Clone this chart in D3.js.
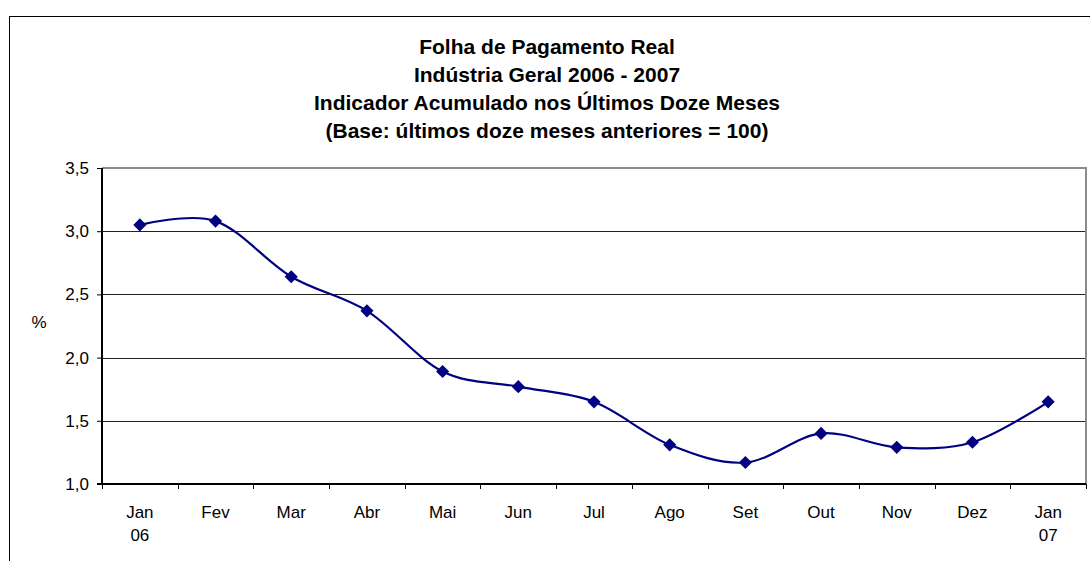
<!DOCTYPE html>
<html>
<head>
<meta charset="utf-8">
<script src="https://cdn.jsdelivr.net/npm/d3@7"></script>
<style>
  body { margin: 0; background: #fff; }
  text { font-family: Arial, "Liberation Sans", sans-serif; }
</style>
</head>
<body>
<div id="chart"></div>
<script>
// folha de pagamento real - industria geral
var months = ["Jan", "Fev", "Mar", "Abr", "Mai", "Jun", "Jul", "Ago", "Set", "Out", "Nov", "Dez", "Jan"];
var years = ["06", "", "", "", "", "", "", "", "", "", "", "", "07"];
var values = [3.05, 3.08, 2.64, 2.37, 1.89, 1.77, 1.65, 1.31, 1.17, 1.40, 1.29, 1.33, 1.65];
var yTicks = [1.0, 1.5, 2.0, 2.5, 3.0, 3.5];
var titleLines = [
	"Folha de Pagamento Real",
	"Indústria Geral 2006 - 2007",
	"Indicador Acumulado nos Últimos Doze Meses",
	"(Base: últimos doze meses anteriores = 100)"
];

var width = 1090, height = 561;
var plotLeft = 102, plotRight = 1086, plotTop = 168, plotBottom = 484;

var svg = d3.select("#chart").append("svg")
			.attr("width", width)
			.attr("height", height);

// outer frame (cut by the window on the right and bottom)
svg.append("rect")
	.attr("x", 9.5).attr("y", 16.5)
	.attr("width", 1100).attr("height", 600)
	.attr("fill", "none")
	.attr("stroke", "#000")
	.attr("stroke-width", 1);

var idx = months.map((d, i) => i);

var xScale = d3.scaleBand()
				.domain(idx)
				.range([plotLeft, plotRight]);

var yScale = d3.scaleLinear()
				.domain([1, 3.5])
				.range([plotBottom, plotTop]);

// gridlines
svg.append("g")
	.selectAll("line")
	.data(yTicks.slice(1, -1))
	.enter()
	.append("line")
	.attr("x1", plotLeft).attr("x2", plotRight)
	.attr("y1", d => Math.round(yScale(d)) + 0.5)
	.attr("y2", d => Math.round(yScale(d)) + 0.5)
	.attr("stroke", "#222")
	.attr("stroke-width", 1);

// plot area border top/right in grey
svg.append("path")
	.attr("d", "M" + plotLeft + "," + plotTop + "H" + plotRight + "V" + plotBottom)
	.attr("fill", "none")
	.attr("stroke", "#8c8c8c")
	.attr("stroke-width", 2);

var fmt = d => d3.format(".1f")(d).replace(".", ",");

var yAxis = d3.axisLeft(yScale)
				.tickValues(yTicks)
				.tickFormat(fmt)
				.tickSize(5)
				.tickPadding(8);

var gy = svg.append("g")
	.attr("transform", "translate(" + plotLeft + ",0)")
	.call(yAxis);
gy.select(".domain").attr("stroke", "#000").attr("stroke-width", 2).attr("d", "M0," + plotTop + "V" + plotBottom);
gy.selectAll(".tick line").attr("stroke", "#000");
gy.selectAll(".tick text").attr("font-size", 17).attr("fill", "#000").attr("font-family", "Arial, 'Liberation Sans', sans-serif");

// x axis: ticks sit between categories
var xAxisG = svg.append("g");
xAxisG.append("line")
	.attr("x1", plotLeft - 5).attr("x2", plotRight)
	.attr("y1", plotBottom).attr("y2", plotBottom)
	.attr("stroke", "#000")
	.attr("stroke-width", 2);

var bounds = idx.concat([idx.length]);
xAxisG.selectAll(".xtick")
	.data(bounds)
	.enter()
	.append("line")
	.attr("x1", d => Math.round(plotLeft + d * xScale.step()) + 0.5)
	.attr("x2", d => Math.round(plotLeft + d * xScale.step()) + 0.5)
	.attr("y1", plotBottom).attr("y2", plotBottom + 5)
	.attr("stroke", "#000");

xAxisG.selectAll(".xlab")
	.data(idx)
	.enter()
	.append("text")
	.attr("x", d => xScale(d) + xScale.bandwidth() / 2)
	.attr("y", 518)
	.attr("text-anchor", "middle")
	.attr("font-size", 17)
	.text(d => months[d]);

xAxisG.selectAll(".xyear")
	.data(idx.filter(d => years[d] !== ""))
	.enter()
	.append("text")
	.attr("x", d => xScale(d) + xScale.bandwidth() / 2)
	.attr("y", 541)
	.attr("text-anchor", "middle")
	.attr("font-size", 17)
	.text(d => years[d]);

// y label
svg.append("text")
	.attr("x", 39).attr("y", 328)
	.attr("text-anchor", "middle")
	.attr("font-size", 17)
	.text("%");

// title
svg.append("g")
	.selectAll("text")
	.data(titleLines)
	.enter()
	.append("text")
	.attr("x", 547)
	.attr("y", (d, i) => 54 + i * 28)
	.attr("text-anchor", "middle")
	.attr("font-size", 21)
	.attr("font-weight", "bold")
	.text(d => d);

// line
var line = d3.line()
			.x((d, i) => xScale(i) + xScale.bandwidth() / 2)
			.y(d => yScale(d))
			.curve(d3.curveCardinal.tension(0));

svg.append("path")
	.datum(values)
	.attr("d", line)
	.attr("fill", "none")
	.attr("stroke", "#000080")
	.attr("stroke-width", 2.2);

svg.selectAll(".marker")
	.data(values)
	.enter()
	.append("path")
	.classed("marker", true)
	.attr("transform", (d, i) => "translate(" + (xScale(i) + xScale.bandwidth() / 2) + "," + yScale(d) + ")")
	.attr("d", d3.symbol().type(d3.symbolDiamond2).size(110))
	.attr("fill", "#000080");
</script>
</body>
</html>
